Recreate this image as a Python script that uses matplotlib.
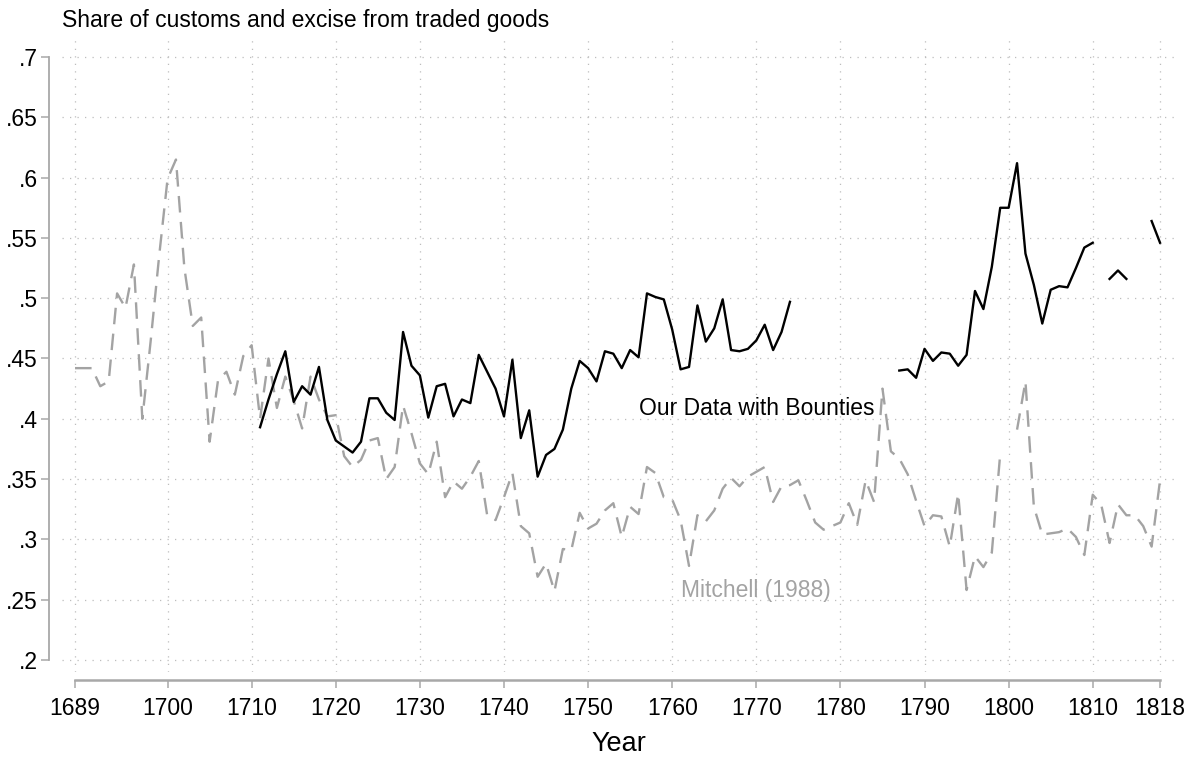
import numpy as np
from matplotlib import pyplot as plt

plt.rcParams['font.family'] = ['Liberation Sans', 'DejaVu Sans']

anos = np.arange(1689, 1819)

# Mitchell (1988), 1689-1818 (1800 missing)
mitchell = [
    0.442, 0.442, 0.442, 0.427, 0.431, 0.504, 0.492, 0.528, 0.400, 0.465,  # 1689-1698
    0.535, 0.599, 0.615, 0.525, 0.477, 0.484, 0.381, 0.432, 0.439, 0.420,  # 1699-1708
    0.452, 0.461, 0.400, 0.450, 0.409, 0.435, 0.415, 0.392, 0.435, 0.416,  # 1709-1718
    0.402, 0.403, 0.369, 0.360, 0.366, 0.382, 0.384, 0.350, 0.360, 0.411,  # 1719-1728
    0.388, 0.363, 0.354, 0.381, 0.335, 0.348, 0.342, 0.352, 0.365, 0.320,  # 1729-1738
    0.316, 0.335, 0.355, 0.311, 0.305, 0.269, 0.280, 0.257, 0.292, 0.291,  # 1739-1748
    0.322, 0.309, 0.313, 0.324, 0.330, 0.302, 0.327, 0.321, 0.360, 0.355,  # 1749-1758
    0.335, 0.333, 0.316, 0.278, 0.320, 0.315, 0.324, 0.342, 0.351, 0.344,  # 1759-1768
    0.352, 0.356, 0.360, 0.331, 0.344, 0.345, 0.349, 0.332, 0.314, 0.308,  # 1769-1778
    0.311, 0.314, 0.330, 0.312, 0.349, 0.331, 0.425, 0.373, 0.367, 0.354,  # 1779-1788
    0.332, 0.311, 0.320, 0.319, 0.294, 0.338, 0.258, 0.286, 0.277, 0.289,  # 1789-1798
    0.371, np.nan, 0.391, 0.431, 0.327, 0.304, 0.305, 0.306, 0.309, 0.302,  # 1799-1808
    0.287, 0.337, 0.329, 0.297, 0.329, 0.320, 0.320, 0.311, 0.294, 0.349,  # 1809-1818
]

# Nossos dados com bounties, 1689-1818 (com lacunas)
nan = np.nan
nossos = [nan] * 22 + [
    0.393, 0.416, 0.437, 0.456, 0.414, 0.427, 0.420, 0.443, 0.399, 0.382,  # 1711-1720
    0.377, 0.372, 0.381, 0.417, 0.417, 0.405, 0.399, 0.472, 0.444, 0.436,  # 1721-1730
    0.401, 0.427, 0.429, 0.402, 0.416, 0.413, 0.453, 0.439, 0.425, 0.402,  # 1731-1740
    0.449, 0.384, 0.407, 0.352, 0.370, 0.375, 0.391, 0.425, 0.448, 0.442,  # 1741-1750
    0.431, 0.456, 0.454, 0.442, 0.457, 0.451, 0.504, 0.501, 0.499, 0.474,  # 1751-1760
    0.441, 0.443, 0.494, 0.464, 0.475, 0.499, 0.457, 0.456, 0.458, 0.465,  # 1761-1770
    0.478, 0.457, 0.472, 0.497,                                            # 1771-1774
] + [nan] * 12 + [
    0.440, 0.441, 0.434, 0.458, 0.448, 0.455, 0.454, 0.444, 0.453, 0.506,  # 1787-1796
    0.491, 0.526, 0.575, 0.575, 0.612, 0.537, 0.511, 0.479, 0.507, 0.510,  # 1797-1806
    0.509, 0.525, 0.542, 0.546, nan, 0.516, 0.523, 0.516, nan, nan,        # 1807-1816
    0.564, 0.546,                                                          # 1817-1818
]

ticks_x = [1689, 1700, 1710, 1720, 1730, 1740, 1750, 1760, 1770, 1780, 1790, 1800, 1810, 1818]
ticks_y = [0.2, 0.25, 0.3, 0.35, 0.4, 0.45, 0.5, 0.55, 0.6, 0.65, 0.7]
rotulos_y = ['.2', '.25', '.3', '.35', '.4', '.45', '.5', '.55', '.6', '.65', '.7']

cinza = '#a3a3a3'
eixo = '#a8a8a8'

fig = plt.figure(figsize=(11.98, 7.59), dpi=100)
ax = fig.add_axes([62 / 1198, 87 / 759, 1113 / 1198, 634 / 759])

ax.plot(anos, mitchell, color=cinza, linewidth=1.7, dashes=(7, 4))
ax.plot(anos, nossos, color='black', linewidth=1.7)

ax.text(1770, 0.4087, 'Our Data with Bounties', ha='center', va='center', fontsize=16.5, color='black')
ax.text(1770, 0.258, 'Mitchell (1988)', ha='center', va='center', fontsize=16.5, color=cinza)

ax.set_xlim(1687.45, 1819.78)
ax.set_ylim(0.19, 0.7158)
ax.set_xticks(ticks_x)
ax.set_yticks(ticks_y)
ax.set_yticklabels(rotulos_y)

# grade pontilhada
ax.grid(True, color='#bdbdbd', linestyle=(0, (1, 5)), linewidth=0.9)

for lado in ['top', 'right']:
    ax.spines[lado].set_visible(False)
ax.spines['left'].set_position(('outward', 9.4))
ax.spines['left'].set_bounds(0.2, 0.7)
ax.spines['left'].set_color(eixo)
ax.spines['left'].set_linewidth(1.3)
ax.spines['bottom'].set_position(('outward', 5.8))
ax.spines['bottom'].set_bounds(1689, 1818)
ax.spines['bottom'].set_color(eixo)
ax.spines['bottom'].set_linewidth(1.8)

ax.tick_params(axis='both', colors=eixo, labelcolor='black', labelsize=16.5, length=6, width=1.1)
ax.tick_params(axis='y', pad=2)
ax.tick_params(axis='x', pad=6)

ax.set_xlabel('Year', fontsize=19.5, labelpad=8)
fig.text(62 / 1198, 1 - 21 / 759, 'Share of customs and excise from traded goods',
         ha='left', va='center', fontsize=16.5)

fig.savefig('out.png', dpi=100)
